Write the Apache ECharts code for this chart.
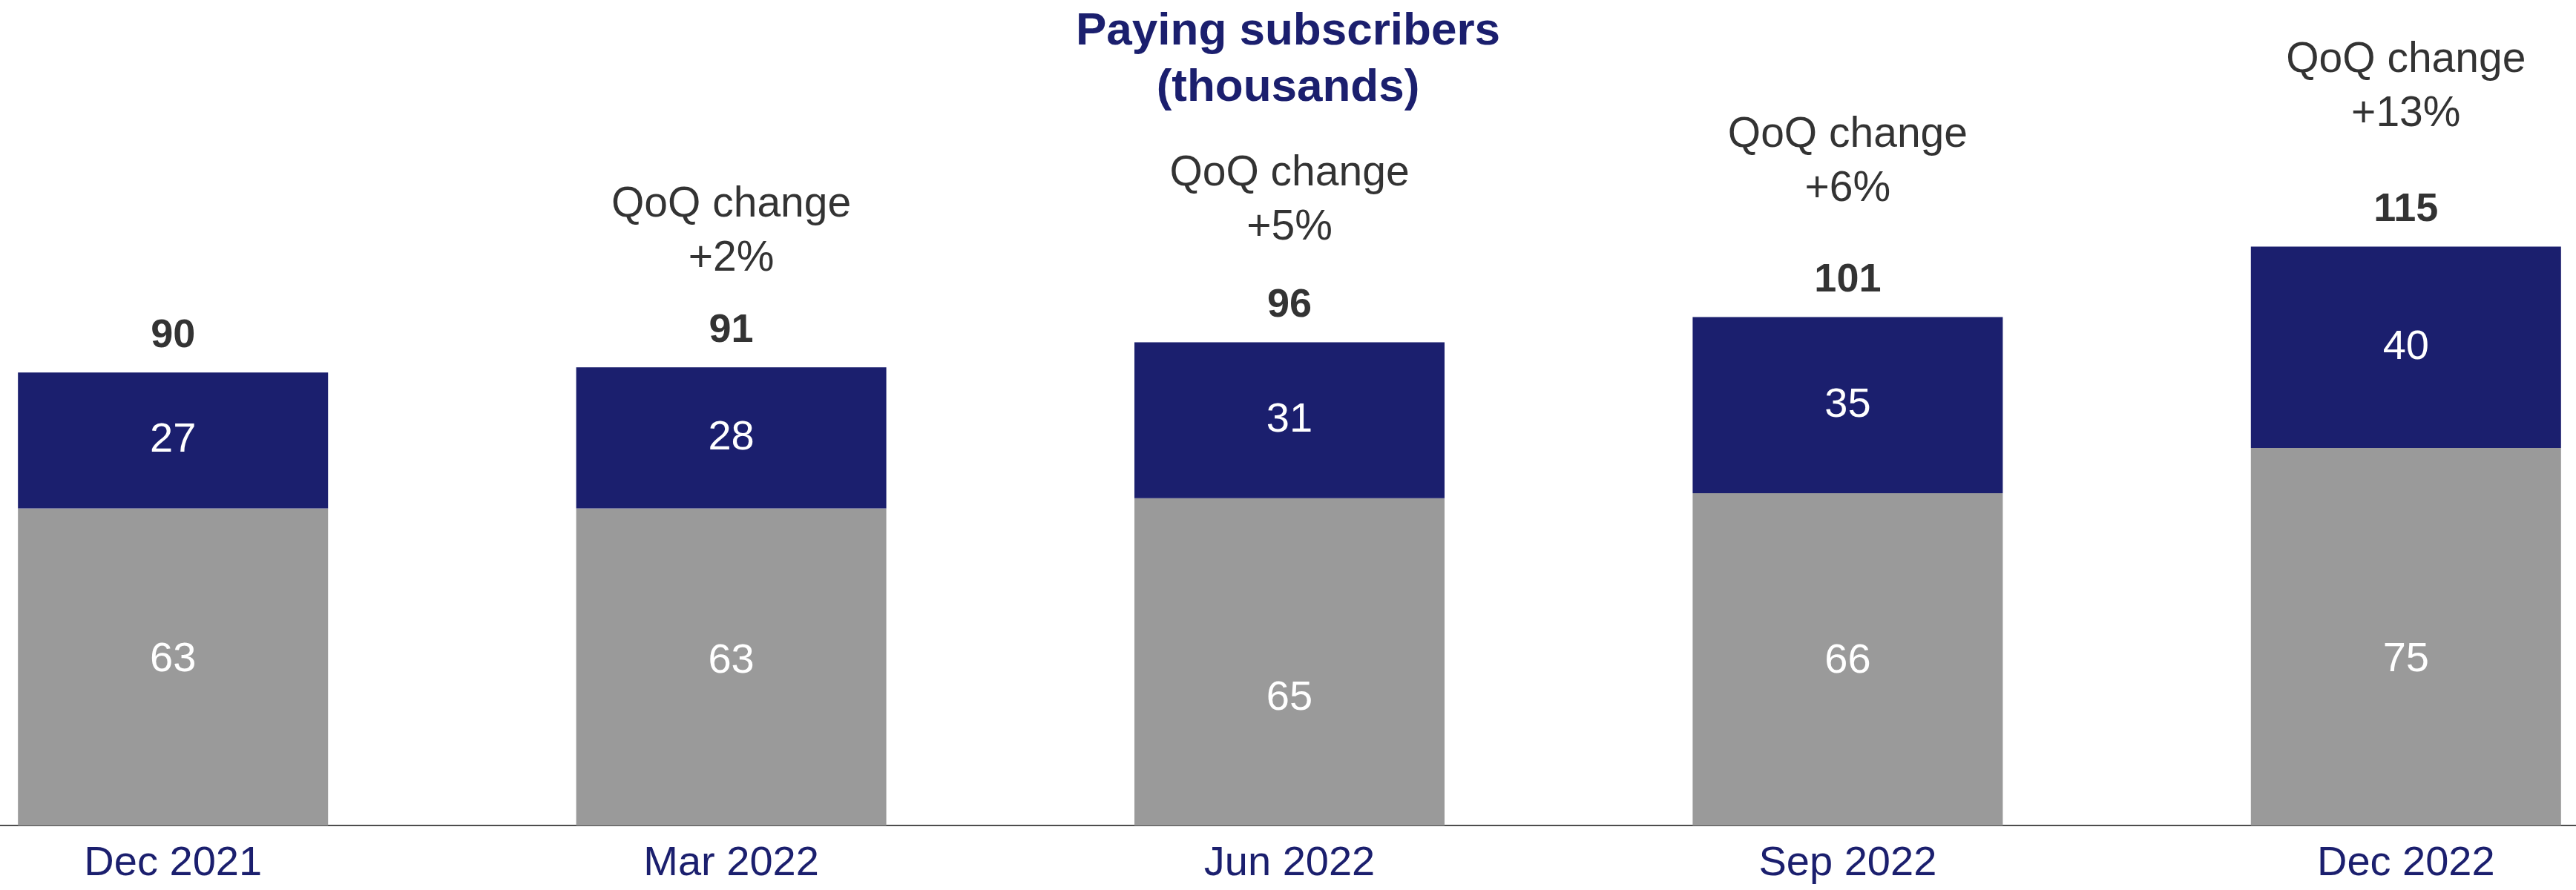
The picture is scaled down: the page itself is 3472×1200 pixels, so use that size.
<!DOCTYPE html>
<html>
<head>
<meta charset="utf-8">
<title>Paying subscribers</title>
<script src="https://cdn.jsdelivr.net/npm/echarts@6/dist/echarts.min.js"></script>
<style>
  html, body { margin: 0; padding: 0; background: #ffffff; }
  #chart { width: 3472px; height: 1200px; }
</style>
</head>
<body>
<div id="chart"></div>
<script>
// Quarter-end periods
const quarters = ['Dec 2021', 'Mar 2022', 'Jun 2022', 'Sep 2022', 'Dec 2022'];
// Paying subscribers (thousands), split into the two stacked segments
const baseSubs = [63, 63, 65, 66, 75];
const newSubs = [27, 28, 31, 35, 40];
// Bar totals shown above each stack
const totalSubs = [90, 91, 96, 101, 115];
// Quarter-over-quarter change shown above the totals
const qoqChange = [null, '+2%', '+5%', '+6%', '+13%'];

// Styling
const NAVY = '#1b1f6e';
const GRAY = '#9a9a9a';
const FONT = '"Liberation Sans", Arial, sans-serif';
// Small vertical nudges for the lower-segment labels and lift of the QoQ notes
const baseLabelShift = [-10, -8, 49, 3, 31];
const qoqLift = [0, 110, 118, 136, 142];

const chart = echarts.init(document.getElementById('chart'), null, { renderer: 'canvas' });

const option = {
  backgroundColor: '#ffffff',
  animation: false,
  title: {
    text: 'Paying subscribers\n(thousands)',
    left: 'center',
    top: 0,
    textStyle: {
      fontFamily: FONT,
      fontSize: 62,
      fontWeight: 'bold',
      color: NAVY,
      lineHeight: 76
    }
  },
  grid: {
    left: -143,
    right: -147,
    top: 27,
    bottom: 87,
    outerBoundsMode: 'none',
    containLabel: false
  },
  xAxis: {
    type: 'category',
    data: quarters,
    axisTick: { show: false },
    axisLine: { show: true, lineStyle: { color: '#4d4d4d', width: 2 } },
    axisLabel: {
      fontFamily: FONT,
      fontSize: 56,
      color: NAVY,
      margin: 24,
      interval: 0
    }
  },
  yAxis: {
    type: 'value',
    min: 0,
    max: 160,
    show: false,
    splitLine: { show: false }
  },
  series: [
    {
      name: 'Base',
      type: 'bar',
      stack: 'subs',
      barWidth: 418,
      itemStyle: { color: GRAY },
      label: {
        show: true,
        position: 'inside',
        color: '#ffffff',
        fontFamily: FONT,
        fontSize: 56
      },
      data: baseSubs.map((v, i) => ({
        value: v,
        label: { offset: [0, baseLabelShift[i]] }
      }))
    },
    {
      name: 'New',
      type: 'bar',
      stack: 'subs',
      barWidth: 418,
      itemStyle: { color: NAVY },
      label: {
        show: true,
        position: 'inside',
        color: '#ffffff',
        fontFamily: FONT,
        fontSize: 56
      },
      data: newSubs
    },
    {
      name: 'Total',
      type: 'scatter',
      symbolSize: 0,
      silent: true,
      z: 5,
      label: {
        show: true,
        position: 'top',
        distance: 22,
        color: '#000000',
        fontFamily: FONT,
        fontSize: 54,
        fontWeight: 'bold',
        lineHeight: 54
      },
      data: totalSubs
    },
    {
      name: 'QoQ',
      type: 'scatter',
      symbolSize: 0,
      silent: true,
      z: 5,
      data: totalSubs.map((v, i) => ({
        value: v,
        label: qoqChange[i] == null
          ? { show: false }
          : {
              show: true,
              position: 'top',
              distance: qoqLift[i],
              formatter: 'QoQ change\n' + qoqChange[i],
              color: '#000000',
              fontFamily: FONT,
              fontSize: 57,
              lineHeight: 73,
              align: 'center'
            }
      }))
    }
  ]
};

chart.setOption(option);
</script>
</body>
</html>
